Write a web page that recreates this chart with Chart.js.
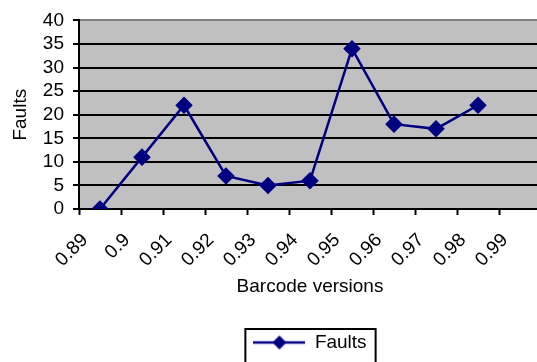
<!DOCTYPE html>
<html>
<head>
<meta charset="utf-8">
<script src="https://cdn.jsdelivr.net/npm/chart.js@4"></script>
<style>
  html, body { margin: 0; padding: 0; background: #fff; overflow: hidden; }
  #wrap { width: 541px; height: 362px; }
</style>
</head>
<body>
<div id="wrap"><canvas id="faultsChart" width="541" height="362"></canvas></div>
<script>
// Data
const versions = ['0.89', '0.9', '0.91', '0.92', '0.93', '0.94', '0.95', '0.96', '0.97', '0.98', '0.99'];
const faults = [0, 11, 22, 7, 5, 6, 34, 18, 17, 22, null];
const yTicks = { min: 0, max: 40, step: 5 };

const navy = '#000080';
Chart.defaults.font.family = "'Liberation Sans', Arial, sans-serif";
Chart.defaults.font.size = 19;
Chart.defaults.color = '#000';

// little line + diamond used as the legend marker
const legendMark = document.createElement('canvas');
legendMark.width = 52;
legendMark.height = 16;
(function () {
    const c = legendMark.getContext('2d');
    c.strokeStyle = navy;
    c.lineWidth = 2.5;
    c.beginPath();
    c.moveTo(0, 8);
    c.lineTo(52, 8);
    c.stroke();
    c.fillStyle = navy;
    c.beginPath();
    c.moveTo(26, 1);
    c.lineTo(33, 8);
    c.lineTo(26, 15);
    c.lineTo(19, 8);
    c.closePath();
    c.fill();
})();

// grey plot area + box round the legend
const excelLook = {
    id: 'excelLook',
    beforeDraw(chart) {
        const { ctx, chartArea: a } = chart;
        ctx.save();
        ctx.fillStyle = '#c0c0c0';
        ctx.fillRect(a.left, a.top, a.right - a.left, a.bottom - a.top);
        ctx.restore();
    },
    afterDraw(chart) {
        const hb = chart.legend.legendHitBoxes[0];
        if (!hb) return;
        const ctx = chart.ctx;
        ctx.save();
        ctx.strokeStyle = '#000';
        ctx.lineWidth = 2;
        ctx.strokeRect(hb.left - 8, hb.top - 4, hb.width + 17, hb.height + 40);
        ctx.restore();
    }
};

new Chart(document.getElementById('faultsChart').getContext('2d'), {
    type: 'line',
    data: {
        labels: versions,
        datasets: [{
            label: 'Faults',
            data: faults,
            borderColor: navy,
            backgroundColor: navy,
            borderWidth: 2.5,
            pointStyle: 'rectRot',
            pointRadius: 7,
            pointBackgroundColor: navy,
            pointBorderColor: navy,
            tension: 0,
            spanGaps: false
        }]
    },
    options: {
        responsive: false,
        animation: false,
        layout: { autoPadding: false, padding: { top: 19, right: 0, bottom: 0, left: 0 } },
        plugins: {
            tooltip: { enabled: false },
            legend: {
                position: 'bottom',
                fullSize: false,
                labels: {
                    usePointStyle: true,
                    pointStyle: legendMark,
                    pointStyleWidth: 52,
                    padding: 10,
                    font: { size: 19 },
                    color: '#000'
                }
            }
        },
        scales: {
            x: {
                offset: true,
                grid: {
                    offset: true,
                    drawOnChartArea: false,
                    tickLength: 6,
                    tickWidth: 2,
                    tickColor: '#000'
                },
                border: { color: '#000', width: 2 },
                ticks: {
                    minRotation: 45,
                    maxRotation: 45,
                    padding: 14,
                    labelOffset: -15,
                    autoSkip: false
                },
                title: {
                    display: true,
                    text: 'Barcode versions',
                    padding: { top: 4, bottom: 25 }
                },
                afterFit(scale) {
                    scale.height = 114;
                    scale.paddingLeft = 0;
                    scale.paddingRight = 0;
                }
            },
            y: {
                min: yTicks.min,
                max: yTicks.max,
                grid: {
                    color: ctx => (ctx.tick && ctx.tick.value === yTicks.max ? '#808080' : '#000'),
                    lineWidth: 2,
                    tickLength: 6,
                    tickColor: '#000'
                },
                border: { color: '#000', width: 2 },
                ticks: { stepSize: yTicks.step, padding: 9, autoSkip: false },
                title: {
                    display: true,
                    text: 'Faults',
                    padding: { top: 9, bottom: 0 }
                },
                afterFit(scale) { scale.width = 79; }
            }
        }
    },
    plugins: [excelLook]
});
</script>
</body>
</html>
